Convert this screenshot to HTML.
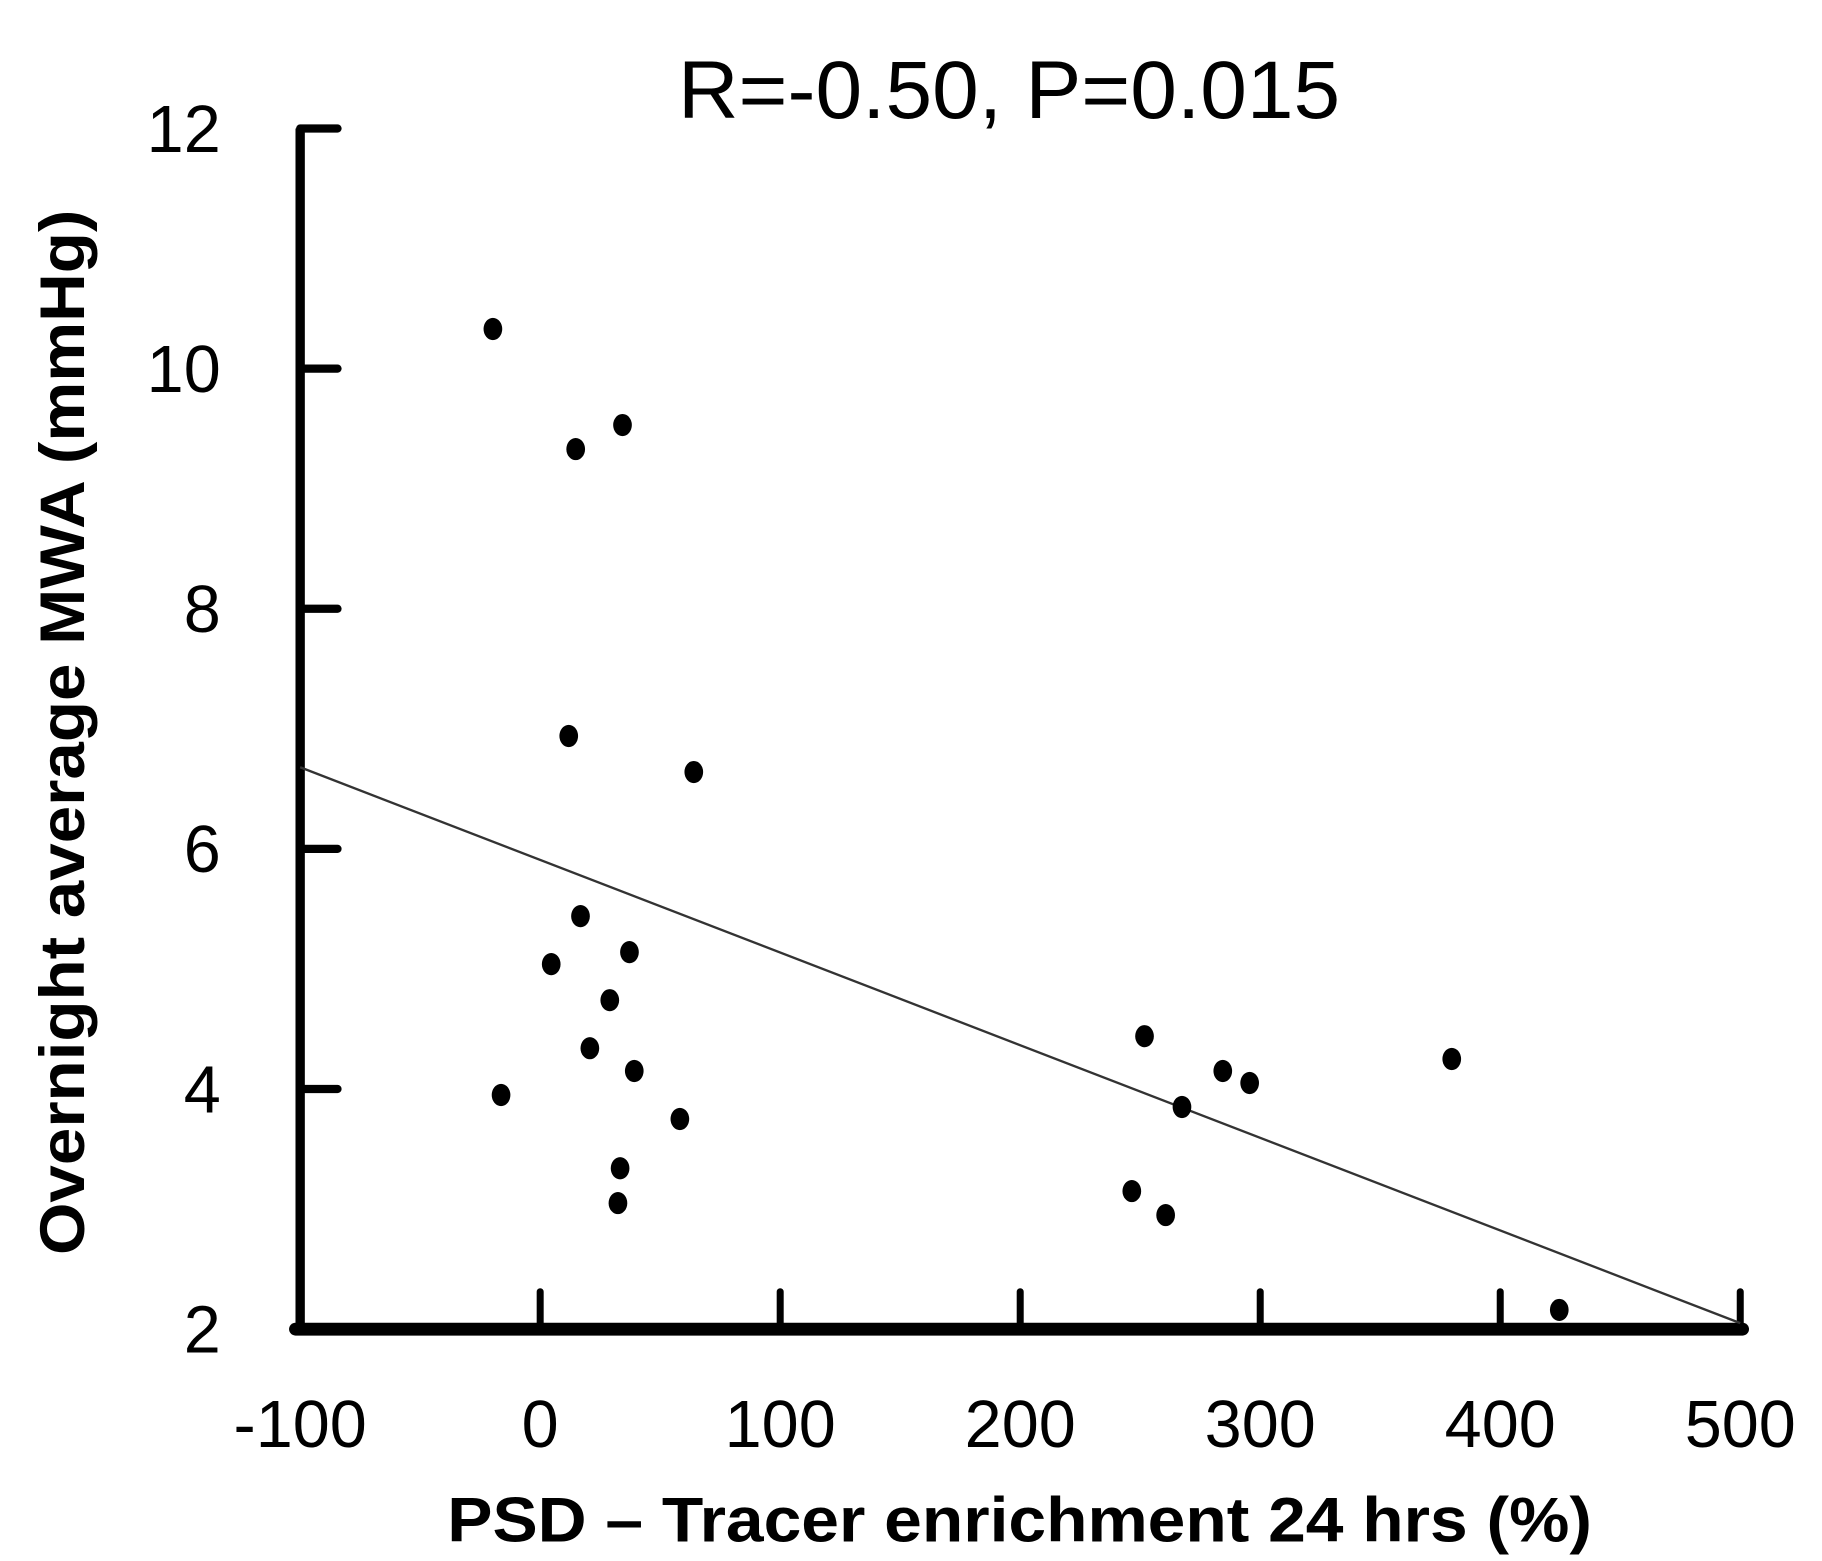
<!DOCTYPE html>
<html><head><meta charset="utf-8"><style>
html,body{margin:0;padding:0;background:#fff;}
svg{display:block;}
</style></head><body>
<svg id="chart" width="1822" height="1561" viewBox="0 0 1560 1336.5" xmlns="http://www.w3.org/2000/svg" font-family="Liberation Sans, Arial, sans-serif">
<rect width="1560" height="1336.5" fill="#fff"/>
<text x="864" y="101" font-size="70" text-anchor="middle" fill="#000" textLength="567" lengthAdjust="spacingAndGlyphs">R=-0.50, P=0.015</text>
<g id="axes"></g>
<g id="marks"></g>
<text x="873" y="1320" font-size="54" font-weight="bold" text-anchor="middle" textLength="980" lengthAdjust="spacingAndGlyphs">PSD – Tracer enrichment 24 hrs (%)</text>
<text transform="translate(72,627) rotate(-90)" font-size="54" font-weight="bold" text-anchor="middle" textLength="895" lengthAdjust="spacingAndGlyphs">Overnight average MWA (mmHg)</text>
</svg>
<script>
const xTicks = [-100, 0, 100, 200, 300, 400, 500];
const yTicks = [2, 4, 6, 8, 10, 12];
const xValues = [-19.7, 14.8, 34.3, 11.9, 64, 16.8, 4.6, 37.2, 29, 20.7, 39.2, -16.3, 58.2, 33.3, 32.4, 251.8, 284.4, 295.6, 267.4, 379.8, 246.5, 260.6, 424.6];
const yValues = [10.33, 9.33, 9.53, 6.94, 6.64, 5.44, 5.04, 5.14, 4.74, 4.34, 4.15, 3.95, 3.75, 3.34, 3.05, 4.44, 4.15, 4.05, 3.85, 4.25, 3.15, 2.95, 2.16];
const fitX = [-100, 500];
const fitY = [6.68, 2.05];

const NS = 'http://www.w3.org/2000/svg';
const X0 = 257, X1 = 1490, Y0 = 1138, Y1 = 110;
const xs = v => X0 + (v - (-100)) / 600 * (X1 - X0);
const ys = v => Y0 - (v - 2) / 10 * (Y0 - Y1);
function mk(tag, attrs, parent) {
  const e = document.createElementNS(NS, tag);
  for (const k in attrs) e.setAttribute(k, attrs[k]);
  parent.appendChild(e);
  return e;
}
const axes = document.getElementById('axes');
const marks = document.getElementById('marks');

let yl = mk('line', {x1: X0, y1: Y1, x2: X0, y2: Y0 + 4, stroke: '#000', 'stroke-width': 8}, axes);


let xl = mk('line', {x1: X0 - 4, y1: Y0, x2: X1 + 2, y2: Y0, stroke: '#000', 'stroke-width': 11, 'stroke-linecap': 'round'}, axes);



yTicks.forEach(t => {
  const y = ys(t);
  if (t !== 2) {
    const tk = mk('line', {x1: X0, y1: y, x2: 289, y2: y, stroke: '#000', 'stroke-width': 7, 'stroke-linecap': 'round'}, axes);
    
    
  }
  const lb = mk('text', {x: 189, y: y + 20, 'font-size': 57, 'text-anchor': 'end'}, axes);
  lb.textContent = t;
  
  
});
xTicks.forEach(t => {
  const x = xs(t);
  if (t !== -100) {
    const tk = mk('line', {x1: x, y1: Y0, x2: x, y2: 1106, stroke: '#000', 'stroke-width': 6, 'stroke-linecap': 'round'}, axes);
    
    
  }
  const lb = mk('text', {x: x, y: 1239, 'font-size': 57, 'text-anchor': 'middle'}, axes);
  lb.textContent = t;
  
  
});

const fl = mk('line', {x1: xs(fitX[0]), y1: ys(fitY[0]), x2: xs(fitX[1]), y2: ys(fitY[1]), stroke: '#333', 'stroke-width': 2}, marks);



xValues.forEach((v, i) => {
  const c = mk('ellipse', {cx: xs(v), cy: ys(yValues[i]), rx: 8, ry: 9.5, fill: '#000'}, marks);
  
  
});
</script>
</body></html>
